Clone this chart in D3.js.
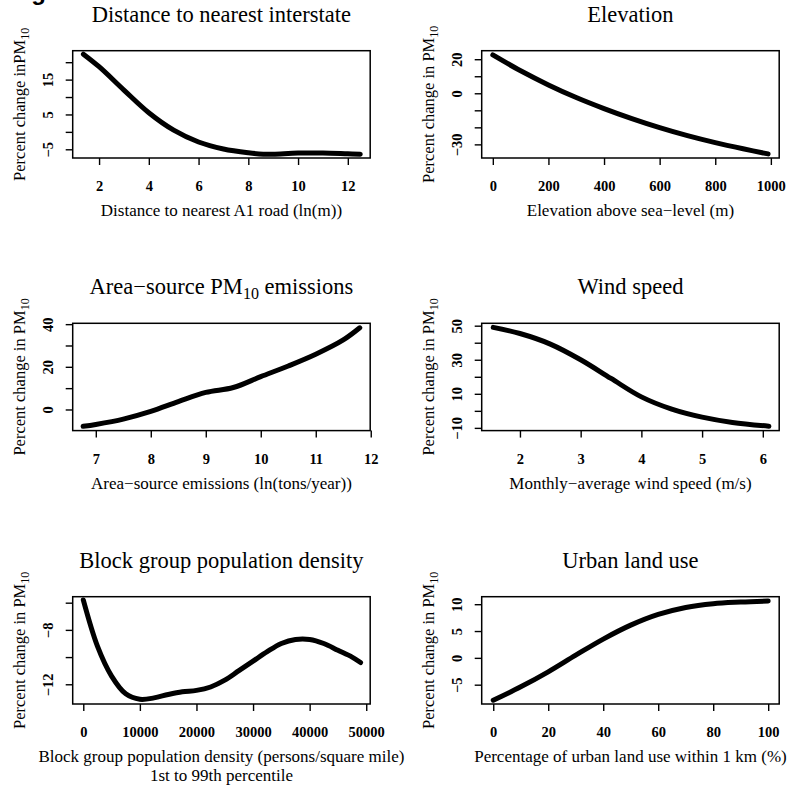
<!DOCTYPE html>
<html>
<head>
<meta charset="utf-8">
<script src="https://cdn.jsdelivr.net/npm/d3@7/dist/d3.min.js"></script>
<style>
  body { margin: 0; background: #fff; }
  svg text { font-family: "Liberation Serif", "Times New Roman", serif; fill: #000; }
</style>
</head>
<body>
<script>
// curve values
var distX = [1.37, 2, 3, 4, 5, 6, 7, 8, 8.6, 9, 10, 11, 12, 12.5];
var distY = [22.3, 18.7, 12, 5.5, 0.5, -2.9, -4.9, -6.0, -6.4, -6.4, -6.1, -6.1, -6.3, -6.4];

var elevX = [0, 100, 200, 300, 400, 500, 600, 700, 800, 900, 990];
var elevY = [22.5, 13.2, 4.9, -2.5, -9.0, -14.9, -20.2, -24.9, -29.0, -32.6, -35.6];

var areaX = [6.77, 7, 7.5, 8, 8.5, 9, 9.5, 10, 10.5, 11, 11.5, 11.8];
var areaY = [-7.9, -7.0, -4.5, -0.9, 3.7, 8, 10.3, 15.4, 20.4, 25.9, 32.6, 38.3];

var windX = [1.56, 2, 2.5, 3, 3.5, 4, 4.5, 5, 5.5, 6.1];
var windY = [49, 45.4, 39.2, 30, 19, 8.2, 1, -3.7, -6.8, -9];

var popX = [0, 2500, 5000, 7500, 10000, 12500, 15000, 17500, 20000, 22500, 25000, 27500, 30000, 32500, 35000, 37500, 40000, 42500, 45000, 47500, 49000];
var popY = [-5.8, -9.2, -11.4, -12.7, -13.1, -13.0, -12.75, -12.55, -12.45, -12.2, -11.7, -11.0, -10.3, -9.6, -9.0, -8.7, -8.7, -9.0, -9.5, -10.0, -10.4];

var urbanX = [0, 10, 20, 30, 40, 50, 60, 70, 80, 90, 100];
var urbanY = [-7.9, -5.4, -2.6, 0.5, 3.5, 6.1, 8.1, 9.4, 10.1, 10.4, 10.6];

// tick values and which of them get a label
var distXTicks = [2, 4, 6, 8, 10, 12];
var distYTicks = [-5, 0, 5, 10, 15, 20], distYLabels = [-5, 5, 15];
var elevXTicks = [0, 200, 400, 600, 800, 1000];
var elevYTicks = [-30, -20, -10, 0, 10, 20], elevYLabels = [-30, 0, 20];
var areaXTicks = [7, 8, 9, 10, 11, 12];
var areaYTicks = [0, 10, 20, 30, 40], areaYLabels = [0, 20, 40];
var windXTicks = [2, 3, 4, 5, 6];
var windYTicks = [-10, 0, 10, 20, 30, 40, 50], windYLabels = [-10, 10, 30, 50];
var popXTicks = [0, 10000, 20000, 30000, 40000, 50000];
var popYTicks = [-12, -10, -8, -6], popYLabels = [-12, -8];
var urbanXTicks = [0, 20, 40, 60, 80, 100];
var urbanYTicks = [-5, 0, 5, 10], urbanYLabels = [-5, 0, 5, 10];

var W = 800, H = 792;
var colLeft = [72.7, 481.7], rowTop = [50.7, 323.3, 596.7];
var boxW = 297.5, boxH = 107.3;

var svg = d3.select("body").append("svg").attr("width", W).attr("height", H);

// heading cut off by the top edge, only a descender shows
svg.append("text").attr("x", 10).attr("y", -0.5)
    .style("font-family", "Liberation Sans, Arial, sans-serif")
    .style("font-weight", "bold").style("font-size", "24px").text("Figure");

var panels = [
    { title: ["Distance to nearest interstate"], xs: distX, ys: distY, xd: [0.94, 12.9], yd: [-7.5, 23.3],
      xt: distXTicks, yt: distYTicks, yl: distYLabels, xlab: ["Distance to nearest A1 road (ln(m))"], ylabPre: "Percent change inPM" },
    { title: ["Elevation"], xs: elevX, ys: elevY, xd: [-40, 1030], yd: [-38, 25],
      xt: elevXTicks, yt: elevYTicks, yl: elevYLabels, xlab: ["Elevation above sea\u2212level (m)"], ylabPre: "Percent change in PM" },
    { title: ["Area\u2212source PM", "10", " emissions"], xs: areaX, ys: areaY, xd: [6.58, 11.99], yd: [-9.9, 40.4],
      xt: areaXTicks, yt: areaYTicks, yl: areaYLabels, xlab: ["Area\u2212source emissions (ln(tons/year))"], ylabPre: "Percent change in PM" },
    { title: ["Wind speed"], xs: windX, ys: windY, xd: [1.37, 6.27], yd: [-11.6, 51.4],
      xt: windXTicks, yt: windYTicks, yl: windYLabels, xlab: ["Monthly\u2212average wind speed (m/s)"], ylabPre: "Percent change in PM" },
    { title: ["Block group population density"], xs: popX, ys: popY, xd: [-1870, 50700], yd: [-13.45, -5.56],
      xt: popXTicks, yt: popYTicks, yl: popYLabels,
      xlab: ["Block group population density (persons/square mile)", "1st to 99th percentile"], ylabPre: "Percent change in PM" },
    { title: ["Urban land use"], xs: urbanX, ys: urbanY, xd: [-4.2, 104], yd: [-8.6, 11.4],
      xt: urbanXTicks, yt: urbanYTicks, yl: urbanYLabels, xlab: ["Percentage of urban land use within 1 km (%)"], ylabPre: "Percent change in PM" }
];

panels.forEach(function(p, i) {
    var left = colLeft[i % 2], top = rowTop[Math.floor(i / 2)];
    var g = svg.append("g").attr("transform", "translate(" + left + "," + top + ")");
    var x = d3.scaleLinear().domain(p.xd).range([0, boxW]);
    var y = d3.scaleLinear().domain(p.yd).range([boxH, 0]);

    // x axis
    var xa = g.append("g").attr("transform", "translate(0," + boxH + ")")
        .call(d3.axisBottom(x).tickValues(p.xt).tickSize(7).tickFormat(d3.format("d")));
    xa.select(".domain").remove();
    xa.selectAll("line").attr("stroke", "#000").attr("stroke-width", 1.4);
    xa.selectAll("text").attr("y", 33).attr("dy", 0)
        .style("font-weight", "bold").style("font-size", "14.5px");

    // y axis, labels turned parallel to the axis
    var ya = g.append("g")
        .call(d3.axisLeft(y).tickValues(p.yt).tickSize(7)
            .tickFormat(function(d) { return p.yl.indexOf(d) >= 0 ? d3.format("d")(d).replace("-", "\u2212") : ""; }));
    ya.select(".domain").remove();
    ya.selectAll("line").attr("stroke", "#000").attr("stroke-width", 1.4);
    ya.selectAll("text").attr("transform", "rotate(-90)").attr("x", 0).attr("y", -20).attr("dy", 0)
        .attr("text-anchor", "middle").style("font-weight", "bold").style("font-size", "14.5px");

    // curve
    var pts = p.xs.map(function(v, k) { return [v, p.ys[k]]; });
    g.append("path").datum(pts)
        .attr("d", d3.line().x(function(d) { return x(d[0]); }).y(function(d) { return y(d[1]); })
            .curve(d3.curveCatmullRom.alpha(0.5)))
        .attr("fill", "none").attr("stroke", "#000").attr("stroke-width", 5)
        .attr("stroke-linecap", "round").attr("stroke-linejoin", "round");

    // box
    g.append("rect").attr("width", boxW).attr("height", boxH)
        .attr("fill", "none").attr("stroke", "#000").attr("stroke-width", 1.5);

    // title
    var t = g.append("text").attr("x", boxW / 2).attr("y", -29).attr("text-anchor", "middle")
        .style("font-size", "22.5px");
    t.append("tspan").text(p.title[0]);
    if (p.title.length > 1) {
        t.append("tspan").attr("dy", 5).style("font-size", "16px").text(p.title[1]);
        t.append("tspan").attr("dy", -5).text(p.title[2]);
    }

    // x label
    p.xlab.forEach(function(s, k) {
        g.append("text").attr("x", boxW / 2).attr("y", boxH + 58 + k * 19)
            .attr("text-anchor", "middle").style("font-size", "17px").text(s);
    });

    // y label
    var yl = g.append("text").attr("transform", "translate(-47.7," + (boxH / 2) + ") rotate(-90)")
        .attr("text-anchor", "middle").style("font-size", "16.5px");
    yl.append("tspan").text(p.ylabPre);
    yl.append("tspan").attr("dy", 4).style("font-size", "12px").text("10");
});
</script>
</body>
</html>
